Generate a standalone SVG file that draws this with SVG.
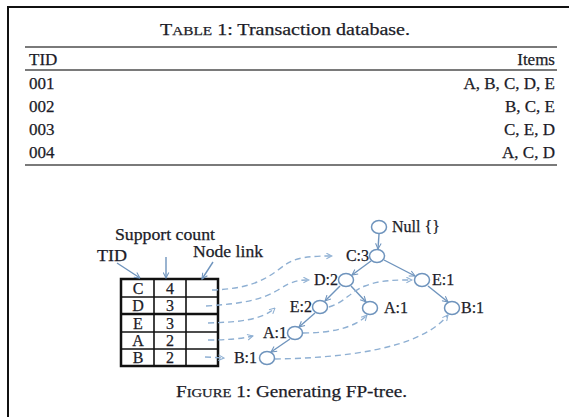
<svg xmlns="http://www.w3.org/2000/svg" width="569" height="417" viewBox="0 0 569 417">
<style>
text{font-family:"Liberation Serif","DejaVu Serif",serif;fill:#1c1c28;stroke:#1c1c28;stroke-width:0.25}
.t{font-size:17px}
.f{font-size:16px}
.sc{font-size:13px}
.rule{stroke:#7a7a7a;stroke-width:2}
.ed{fill:none;stroke:#6f94bd;stroke-width:1.4}
.dl{fill:none;stroke:#8fb0d3;stroke-width:1.4;stroke-dasharray:6 4}
.nd{fill:#fff;stroke:#6f94bd;stroke-width:1.5}
.grid{stroke:#111;fill:none}
</style>
<defs>
<marker id="ah" viewBox="0 0 10 10" refX="9" refY="5" markerWidth="7" markerHeight="7" orient="auto" markerUnits="userSpaceOnUse">
<path d="M1,1 L9,5 L1,9" fill="none" stroke="#6f94bd" stroke-width="1.5"/>
</marker>
<marker id="ahd" viewBox="0 0 10 10" refX="9" refY="5" markerWidth="7" markerHeight="7" orient="auto" markerUnits="userSpaceOnUse">
<path d="M1,1 L9,5 L1,9" fill="none" stroke="#8fb0d3" stroke-width="1.5"/>
</marker>
</defs>
<rect width="569" height="417" fill="#fff"/>
<!-- frame -->
<path d="M8,417 L8,7 L569,7" fill="none" stroke="#111" stroke-width="2"/>

<!-- Table 1 -->
<g id="table1">
<text x="160" y="35" class="t" textLength="250" lengthAdjust="spacingAndGlyphs"><tspan>T</tspan><tspan class="sc">ABLE</tspan><tspan> 1: Transaction database.</tspan></text>
<line x1="25" y1="47" x2="557" y2="47" class="rule"/>
<line x1="25" y1="70" x2="557" y2="70" class="rule" stroke-width="1.5"/>
<line x1="25" y1="165" x2="557" y2="165" class="rule"/>
<text x="29" y="65" class="t">TID</text>
<text x="555" y="65" class="t" text-anchor="end">Items</text>
<text x="29" y="89" class="t">001</text>
<text x="555" y="89" class="t" text-anchor="end">A, B, C, D, E</text>
<text x="29" y="112" class="t">002</text>
<text x="555" y="112" class="t" text-anchor="end">B, C, E</text>
<text x="29" y="135" class="t">003</text>
<text x="555" y="135" class="t" text-anchor="end">C, E, D</text>
<text x="29" y="158" class="t">004</text>
<text x="555" y="158" class="t" text-anchor="end">A, C, D</text>
</g>

<!-- header table -->
<g id="header-table">
<rect x="121" y="279" width="97" height="87" class="grid" stroke-width="2.5"/>
<line x1="154" y1="279" x2="154" y2="366" class="grid" stroke-width="1.6"/>
<line x1="186" y1="279" x2="186" y2="366" class="grid" stroke-width="1.6"/>
<line x1="121" y1="297" x2="218" y2="297" class="grid" stroke-width="1.6"/>
<line x1="121" y1="314" x2="218" y2="314" class="grid" stroke-width="2.4"/>
<line x1="121" y1="332" x2="218" y2="332" class="grid" stroke-width="1.6"/>
<line x1="121" y1="349" x2="218" y2="349" class="grid" stroke-width="1.6"/>
<text x="138" y="294" class="f" text-anchor="middle">C</text>
<text x="170" y="294" class="f" text-anchor="middle">4</text>
<text x="138" y="311" class="f" text-anchor="middle">D</text>
<text x="170" y="311" class="f" text-anchor="middle">3</text>
<text x="138" y="329" class="f" text-anchor="middle">E</text>
<text x="170" y="329" class="f" text-anchor="middle">3</text>
<text x="138" y="346" class="f" text-anchor="middle">A</text>
<text x="170" y="346" class="f" text-anchor="middle">2</text>
<text x="138" y="363" class="f" text-anchor="middle">B</text>
<text x="170" y="363" class="f" text-anchor="middle">2</text>
</g>

<g id="labels">
<text x="115" y="240" class="f" textLength="100" lengthAdjust="spacingAndGlyphs">Support count</text>
<text x="97" y="261" class="f" textLength="30" lengthAdjust="spacingAndGlyphs">TID</text>
<text x="193" y="257" class="f" textLength="70" lengthAdjust="spacingAndGlyphs">Node link</text>
<path d="M117,263 L140,278" class="ed" marker-end="url(#ah)"/>
<path d="M166,257 L166,278" class="ed" marker-end="url(#ah)"/>
<path d="M213,262 L202,279" class="ed" marker-end="url(#ah)"/>
</g>

<!-- connectors -->
<g id="connectors">
<path d="M379,234 L378,249" class="ed" marker-end="url(#ah)"/>
<path d="M371,261 L352,275" class="ed" marker-end="url(#ah)"/>
<path d="M384,260 L415,276" class="ed" marker-end="url(#ah)"/>
<path d="M340,286 L325,301" class="ed" marker-end="url(#ah)"/>
<path d="M351,286 L366,302" class="ed" marker-end="url(#ah)"/>
<path d="M428,286 L448,302" class="ed" marker-end="url(#ah)"/>
<path d="M315,313 L299,327" class="ed" marker-end="url(#ah)"/>
<path d="M290,339 L271,352" class="ed" marker-end="url(#ah)"/>

<path d="M212,290 C245,289 262,282 278,270 C292,259 300,256 332,256" class="dl" marker-end="url(#ahd)"/>
<path d="M206,306 C240,304 262,300 278,290 C292,281 298,280 309,280" class="dl" marker-end="url(#ahd)"/>
<path d="M208,323 C240,322 262,320 275,308" class="dl" marker-end="url(#ahd)"/>
<path d="M208,340 C225,340 240,339 253,336" class="dl" marker-end="url(#ahd)"/>
<path d="M205,357 L224,358" class="dl" marker-end="url(#ahd)"/>
<path d="M329,307 C345,302 350,292 365,286 C380,280 395,280 412,280" class="dl" marker-end="url(#ahd)"/>
<path d="M303,333 C330,333 355,328 367,315" class="dl" marker-end="url(#ahd)"/>
<path d="M275,359 C340,358 420,350 448,315" class="dl" marker-end="url(#ahd)"/>
</g>

<!-- tree nodes -->
<g id="n-null"><ellipse cx="379" cy="227" rx="7.5" ry="6.5" class="nd"/><text x="392" y="232" class="f">Null {}</text></g>
<g id="n-c3"><ellipse cx="377" cy="256" rx="7.5" ry="6.5" class="nd"/><text x="369" y="261" class="f" text-anchor="end">C:3</text></g>
<g id="n-d2"><ellipse cx="346" cy="280" rx="7.5" ry="6.5" class="nd"/><text x="338" y="285" class="f" text-anchor="end">D:2</text></g>
<g id="n-e1"><ellipse cx="422" cy="280" rx="7.5" ry="6.5" class="nd"/><text x="432" y="285" class="f">E:1</text></g>
<g id="n-e2"><ellipse cx="320" cy="307" rx="7.5" ry="6.5" class="nd"/><text x="312" y="312" class="f" text-anchor="end">E:2</text></g>
<g id="n-a1m"><ellipse cx="370" cy="308" rx="7.5" ry="6.5" class="nd"/><text x="384" y="313" class="f">A:1</text></g>
<g id="n-b1r"><ellipse cx="452" cy="308" rx="7.5" ry="6.5" class="nd"/><text x="461" y="313" class="f">B:1</text></g>
<g id="n-a1l"><ellipse cx="295" cy="333" rx="7.5" ry="6.5" class="nd"/><text x="287" y="338" class="f" text-anchor="end">A:1</text></g>
<g id="n-b1l"><ellipse cx="267" cy="358" rx="7.5" ry="6.5" class="nd"/><text x="257" y="363" class="f" text-anchor="end">B:1</text></g>

<g id="caption">
<text x="176" y="397" class="t" textLength="231" lengthAdjust="spacingAndGlyphs"><tspan>F</tspan><tspan class="sc">IGURE</tspan><tspan> 1: Generating FP-tree.</tspan></text>
</g>
</svg>
